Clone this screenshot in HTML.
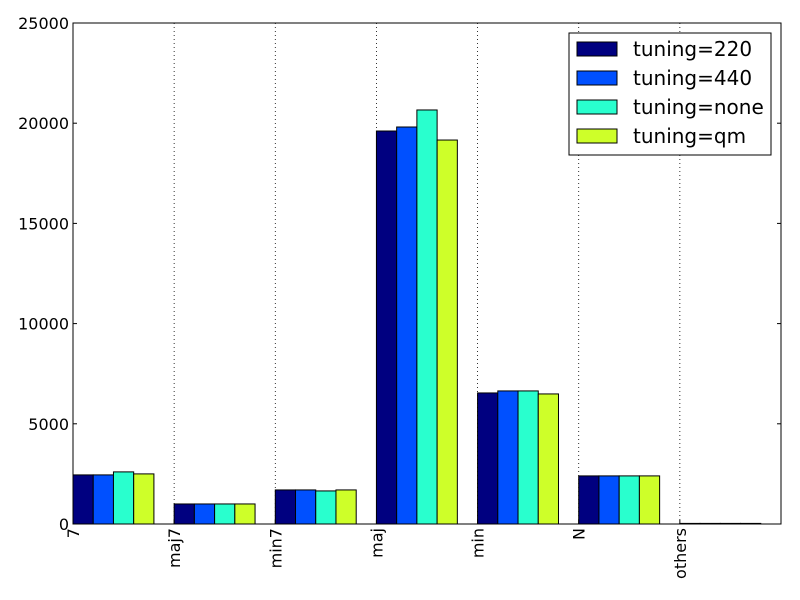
<!DOCTYPE html>
<html><head><meta charset="utf-8"><style>body{margin:0;background:#fff}svg{display:block}text{font-family:"DejaVu Sans","Liberation Sans",sans-serif}</style></head>
<body>
<svg id="chart" width="800" height="600" xmlns="http://www.w3.org/2000/svg"></svg>
<script>
const categories = ["7","maj7","min7","maj","min","N","others"];
const seriesNames = ["tuning=220","tuning=440","tuning=none","tuning=qm"];
const s220 = [2450,1000,1700,19610,6540,2400,30];
const s440 = [2450,1000,1700,19810,6640,2400,30];
const sNone = [2600,1000,1650,20660,6640,2400,30];
const sQm = [2500,1000,1700,19160,6490,2400,30];
const yTicks = [0,5000,10000,15000,20000,25000];
const colors = ["#000080","#0050ff","#29ffce","#ceff29"];
const series=[s220,s440,sNone,sQm];
const L=73,R=781,T=23,B=524,yMax=25000;
const gw=(R-L)/categories.length, bw=gw*0.2;
const y=v=>B-(v/yMax)*(B-T);
const x=i=>L+i*gw;
const svg=document.getElementById('chart');
const NS="http://www.w3.org/2000/svg";
function mk(tag,attrs,parent){const e=document.createElementNS(NS,tag);for(const k in attrs)e.setAttribute(k,attrs[k]);(parent||svg).appendChild(e);return e;}
for(let i=1;i<categories.length;i++){
  const g=mk('line',{x1:x(i),x2:x(i),y1:T,y2:B,stroke:'#000','stroke-dasharray':'1,3','stroke-width':0.8});
  
  
}
series.forEach((s,si)=>{s.forEach((v,i)=>{
  const r=mk('rect',{x:x(i)+si*bw,y:y(v),width:bw,height:B-y(v),fill:colors[si],stroke:'#000','stroke-width':1});
  
  
});});
const frame=mk('rect',{x:L,y:T,width:R-L,height:B-T,fill:'none',stroke:'#000','stroke-width':1});


yTicks.forEach(t=>{
  mk('line',{x1:L,x2:L+4,y1:y(t),y2:y(t),stroke:'#000'});
  mk('line',{x1:R,x2:R-4,y1:y(t),y2:y(t),stroke:'#000'});
  const tx=mk('text',{x:L-4,y:y(t)+6,'text-anchor':'end','font-size':16});
  tx.textContent=t;
  
  
});
categories.forEach((c,i)=>{
  mk('line',{x1:x(i),x2:x(i),y1:B,y2:B-4,stroke:'#000'});
  const tx=mk('text',{x:0,y:0,'text-anchor':'end','font-size':16,transform:`translate(${x(i)+6},${B+4}) rotate(-90)`});
  tx.textContent=c;
  
  
});
const lg=mk('g',{});


mk('rect',{x:569,y:33,width:202,height:122,fill:'#fff',stroke:'#000'},lg);
seriesNames.forEach((n,i)=>{
  const yy=42+i*29;
  mk('rect',{x:577,y:yy,width:40,height:14,fill:colors[i],stroke:'#000'},lg);
  const t=mk('text',{x:633,y:yy+14,'font-size':20},lg);
  t.textContent=n;
  
  
});
</script>
</body></html>
